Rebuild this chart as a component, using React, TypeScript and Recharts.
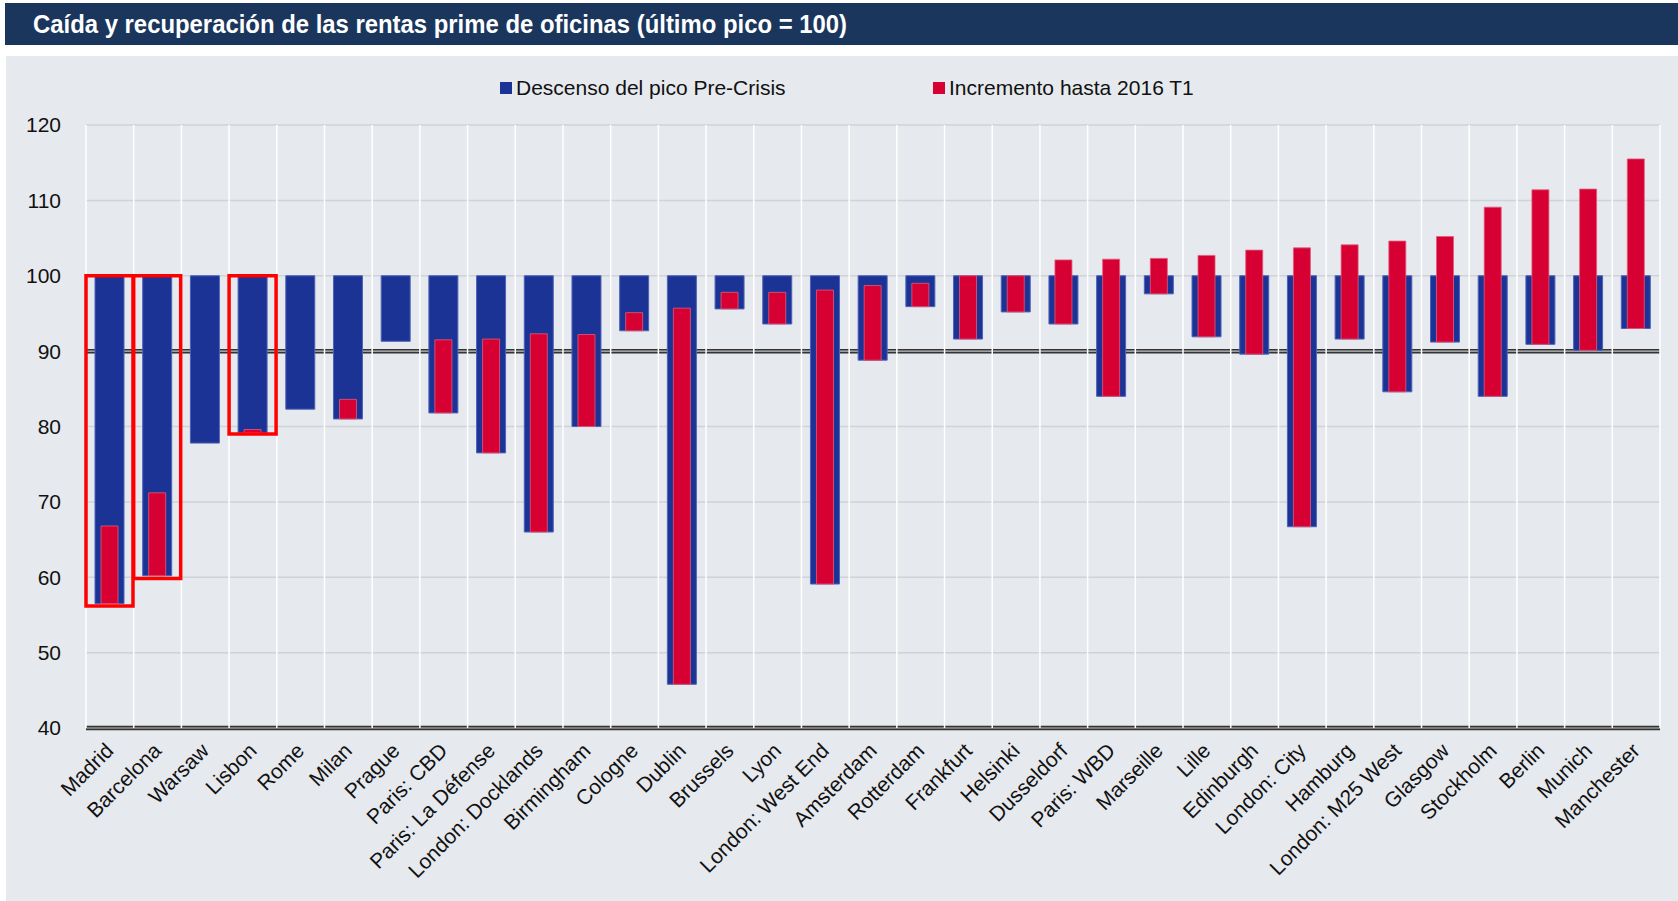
import React from 'react';
import { ComposedChart, Bar, XAxis, YAxis, CartesianGrid } from 'recharts';

const cities = [
  'Madrid', 'Barcelona', 'Warsaw', 'Lisbon', 'Rome', 'Milan', 'Prague', 'Paris: CBD',
  'Paris: La Défense', 'London: Docklands', 'Birmingham', 'Cologne', 'Dublin', 'Brussels',
  'Lyon', 'London: West End', 'Amsterdam', 'Rotterdam', 'Frankfurt', 'Helsinki', 'Dusseldorf',
  'Paris: WBD', 'Marseille', 'Lille', 'Edinburgh', 'London: City', 'Hamburg',
  'London: M25 West', 'Glasgow', 'Stockholm', 'Berlin', 'Munich', 'Manchester',
];

// minimo tras el pico pre-crisis (pico = 100)
const troughs = [
  56.5, 60.2, 77.8, 79.2, 82.3, 81.0, 91.3, 81.8, 76.5, 66.0, 80.0, 92.7, 45.8, 95.6, 93.6,
  59.1, 88.8, 95.9, 91.6, 95.2, 93.6, 84.0, 97.6, 91.9, 89.6, 66.7, 91.6, 84.6, 91.2, 84.0,
  90.9, 90.1, 93.0,
];

// nivel en 2016 T1
const current2016 = [
  66.8, 71.2, 77.8, 79.6, 82.3, 83.6, 91.3, 91.5, 91.6, 92.3, 92.2, 95.1, 95.7, 97.8, 97.8,
  98.1, 98.7, 99.0, 100.0, 100.0, 102.1, 102.2, 102.3, 102.7, 103.4, 103.7, 104.1, 104.6,
  105.2, 109.1, 111.4, 111.5, 115.5,
];

// recuadros rojos (Madrid, Barcelona, Lisboa)
const highlightLows = [
  56.2, 59.85, null, 79.0, null, null, null, null, null, null, null, null, null, null, null,
  null, null, null, null, null, null, null, null, null, null, null, null, null, null, null,
  null, null, null,
];

const peak = 100;
const yMin = 40;
const yMax = 120;
const yTicks = [40, 50, 60, 70, 80, 90, 100, 110, 120];
const markedLevels = [90, 40];
const legendLabels = ['Descenso del pico Pre-Crisis', 'Incremento hasta 2016 T1'];

const BLUE = '#1b3394';
const RED = '#d60032';
const BG = '#e6e9ee';
const FONT = '"Liberation Sans", Arial, sans-serif';

const data = cities.map((city, i) => ({
  city,
  drop: [troughs[i], peak],
  rise: current2016[i] > troughs[i] ? [troughs[i], current2016[i]] : null,
  box: highlightLows[i] != null ? [highlightLows[i], peak] : null,
}));

const CityTick = (props: any) => {
  const { x, y, payload } = props;
  const tx = x + 5;
  const ty = y + 24;
  return (
    <text
      x={tx}
      y={ty}
      textAnchor="end"
      transform={`rotate(-45 ${tx} ${ty})`}
      fontSize={21}
      fontFamily={FONT}
      fill="#111"
    >
      {payload.value}
    </text>
  );
};

// lineas verticales blancas entre categorias
const boundaryLines = ({ offset }: any) =>
  Array.from({ length: cities.length + 1 }, (_, i) => offset.left + (i * offset.width) / cities.length);

// lineas dobles en 90 y en el eje (40)
const levelLines = ({ offset }: any) =>
  markedLevels.map((v) => offset.top + (offset.height * (yMax - v)) / (yMax - yMin));

const LegendItem = ({ color, label, left }: { color: string; label: string; left: number }) => (
  <div style={{ position: 'absolute', left, top: 20, display: 'flex', alignItems: 'center', whiteSpace: 'nowrap' }}>
    <span style={{ width: 12, height: 12, background: color, marginRight: 4, display: 'inline-block' }} />
    <span style={{ fontSize: 21, color: '#111', fontFamily: FONT }}>{label}</span>
  </div>
);

export default function App() {
  return (
    <div style={{ position: 'absolute', left: 0, top: 0, width: 1678, height: 901, background: '#fff', overflow: 'hidden' }}>
      <div
        style={{
          position: 'absolute', left: 5, top: 3, width: 1673, height: 42, background: '#1b365d',
          color: '#fff', fontFamily: FONT, fontWeight: 'bold', fontSize: 25, lineHeight: '42px',
          paddingLeft: 28, boxSizing: 'border-box', whiteSpace: 'nowrap',
        }}
      >
        <span style={{ display: 'inline-block', transform: 'scaleX(0.955)', transformOrigin: 'left center' }}>
          Caída y recuperación de las rentas prime de oficinas (último pico = 100)
        </span>
      </div>
      <div style={{ position: 'absolute', left: 6, top: 56, width: 1672, height: 845, background: BG }}>
        <LegendItem color={BLUE} label={legendLabels[0]} left={494} />
        <LegendItem color={RED} label={legendLabels[1]} left={927} />
        <div style={{ position: 'absolute', left: 0, top: 0 }}>
          <ComposedChart
            width={1672}
            height={845}
            data={data}
            barCategoryGap={0}
            barGap={0}
            margin={{ top: 69, right: 18, bottom: 23, left: 20 }}
          >
            <CartesianGrid vertical={false} stroke="#cfd2d7" strokeWidth={1.5} />
            <CartesianGrid vertical={false} stroke="#333333" strokeWidth={4.5} horizontalCoordinatesGenerator={levelLines} />
            <CartesianGrid vertical={false} stroke="#c4c4c4" strokeWidth={1.2} horizontalCoordinatesGenerator={levelLines} />
            <CartesianGrid horizontal={false} stroke="#ffffff" strokeWidth={1.5} verticalCoordinatesGenerator={boundaryLines} />
            <XAxis
              dataKey="city"
              xAxisId="main"
              interval={0}
              height={150}
              tickSize={0}
              tickMargin={0}
              tickLine={false}
              axisLine={false}
              tick={<CityTick />}
            />
            <XAxis dataKey="city" xAxisId="inner" hide height={0} />
            <XAxis dataKey="city" xAxisId="box" hide height={0} />
            <YAxis
              domain={[yMin, yMax]}
              ticks={yTicks}
              width={60}
              tickSize={0}
              tickMargin={25}
              axisLine={false}
              tickLine={false}
              tick={{ fontSize: 21, fill: '#111', fontFamily: FONT }}
            />
            <Bar dataKey="drop" xAxisId="main" fill={BLUE} stroke="#4f63b8" strokeWidth={1} barSize={29} isAnimationActive={false} />
            <Bar dataKey="rise" xAxisId="inner" fill={RED} stroke="#e45a7c" strokeWidth={0.8} barSize={17} isAnimationActive={false} />
            <Bar dataKey="box" xAxisId="box" fill="none" stroke="#ff0000" strokeWidth={3.5} barSize={47} isAnimationActive={false} />
          </ComposedChart>
        </div>
      </div>
    </div>
  );
}
